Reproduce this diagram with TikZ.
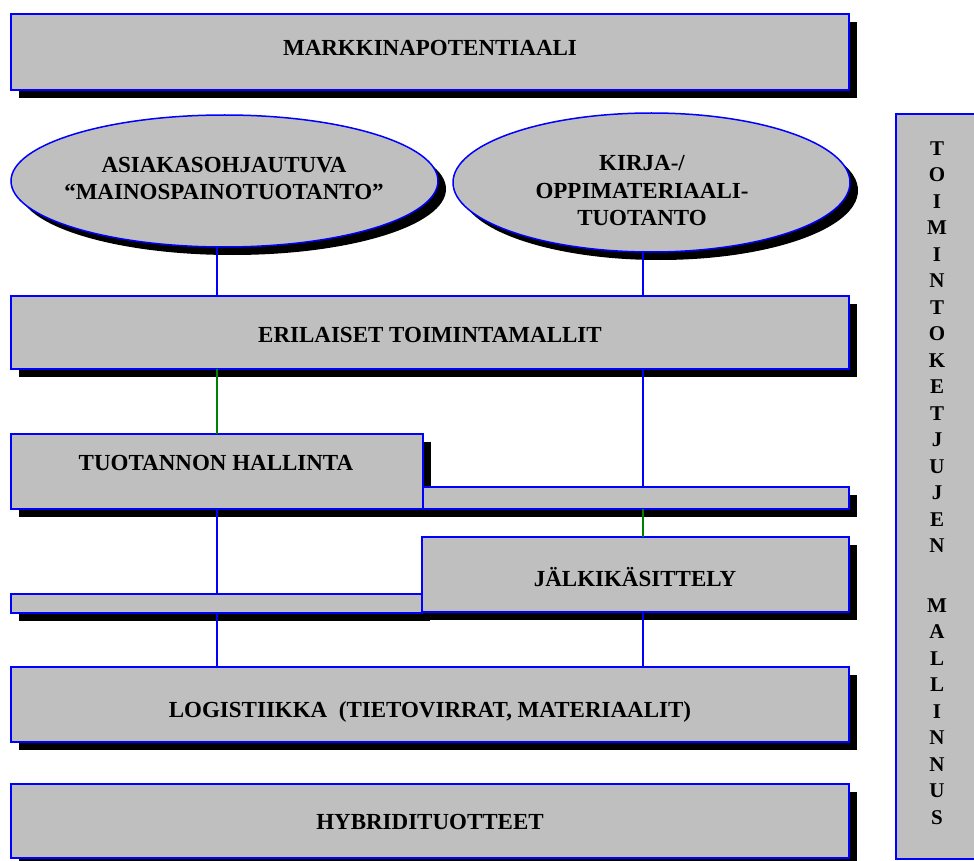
\documentclass[tikz,border=0pt]{standalone}
\usepackage{fontspec}
\setmainfont{Liberation Serif}
\usetikzlibrary{shapes.geometric,shadows}
\definecolor{boxgray}{RGB}{191,191,191}
\definecolor{edgeblue}{RGB}{0,0,255}
\definecolor{linkgreen}{RGB}{0,128,0}
\begin{document}
\begin{tikzpicture}[x=1pt,y=-1pt,
  panel/.style={rectangle, draw=edgeblue, line width=1.5pt, fill=boxgray,
    inner sep=0pt, outer sep=0pt,
    drop shadow={shadow xshift=8pt, shadow yshift=-8pt, fill=black, opacity=1}},
  flatpanel/.style={rectangle, draw=edgeblue, line width=1.5pt, fill=boxgray,
    inner sep=0pt, outer sep=0pt},
  oval/.style={panel, ellipse},
  caption/.style={font=\fontsize{23}{27.5}\selectfont\bfseries, align=center, inner sep=0pt},
  colcaption/.style={font=\fontsize{21}{26.5}\selectfont\bfseries, align=center, inner sep=0pt},
  bluelink/.style={draw=edgeblue, line width=1.5pt},
  greenlink/.style={draw=linkgreen, line width=1.5pt}]

\useasboundingbox (0,0) rectangle (974,861);

% connector columns
\coordinate (c1) at (217,0);
\coordinate (c2) at (643,0);

% main blocks
\node[panel, minimum width=838pt, minimum height=76pt] (market) at (430,52) {};
\node[oval, minimum width=427pt, minimum height=132pt] (e1) at (224.5,181) {};
\node[oval, minimum width=397pt, minimum height=139pt] (e2) at (651.5,182.5) {};
\node[panel, minimum width=838pt, minimum height=73pt] (models) at (430,332.5) {};
\node[panel, minimum width=412pt, minimum height=75pt] (prod) at (217,471.5) {};
\node[panel, minimum width=426pt, minimum height=22pt] (stripR) at (636,498) {};
\node[panel, minimum width=411pt, minimum height=19pt] (stripL) at (216.5,603.5) {};
\node[panel, minimum width=427pt, minimum height=75pt] (post) at (635.5,574.5) {};
\node[panel, minimum width=838pt, minimum height=75pt] (logi) at (430,704.5) {};
\node[panel, minimum width=838pt, minimum height=74pt] (hybrid) at (430,821) {};
\node[flatpanel, minimum width=82pt, minimum height=745pt] (chain) at (937,486.5) {};

% texts
\node[caption] (marketT) at (430,48) {MARKKINAPOTENTIAALI};
\node[caption] (e1T) at (224,178.5) {ASIAKASOHJAUTUVA\\“MAINOSPAINOTUOTANTO”};
\node[caption] (e2T) at (642,191) {KIRJA-/\\OPPIMATERIAALI-\\TUOTANTO};
\node[caption] (modelsT) at (430,335) {ERILAISET TOIMINTAMALLIT};
\node[caption] (prodT) at (216,463) {TUOTANNON HALLINTA};
\node[caption] (postT) at (635,577) {JÄLKIKÄSITTELY};
\node[caption] (logiT) at (430,712) {LOGISTIIKKA\ \ (TIETOVIRRAT, MATERIAALIT)};
\node[caption] (hybridT) at (430,822) {HYBRIDITUOTTEET};
\node[colcaption] (chainT) at (937,483)
  {T\\O\\I\\M\\I\\N\\T\\O\\K\\E\\T\\J\\U\\J\\E\\N\\[33pt]M\\A\\L\\L\\I\\N\\N\\U\\S};

% connectors
\draw[bluelink] (e1.south -| c1) -- (models.north -| c1);
\draw[bluelink] (e2.south -| c2) -- (models.north -| c2);
\draw[greenlink] (models.south -| c1) -- (prod.north -| c1);
\draw[bluelink] (models.south -| c2) -- (stripR.north -| c2);
\draw[greenlink] (stripR.south -| c2) -- (post.north -| c2);
\draw[bluelink] (prod.south -| c1) -- (stripL.north -| c1);
\draw[bluelink] (stripL.south -| c1) -- (logi.north -| c1);
\draw[bluelink] (post.south -| c2) -- (logi.north -| c2);
\end{tikzpicture}
\end{document}
